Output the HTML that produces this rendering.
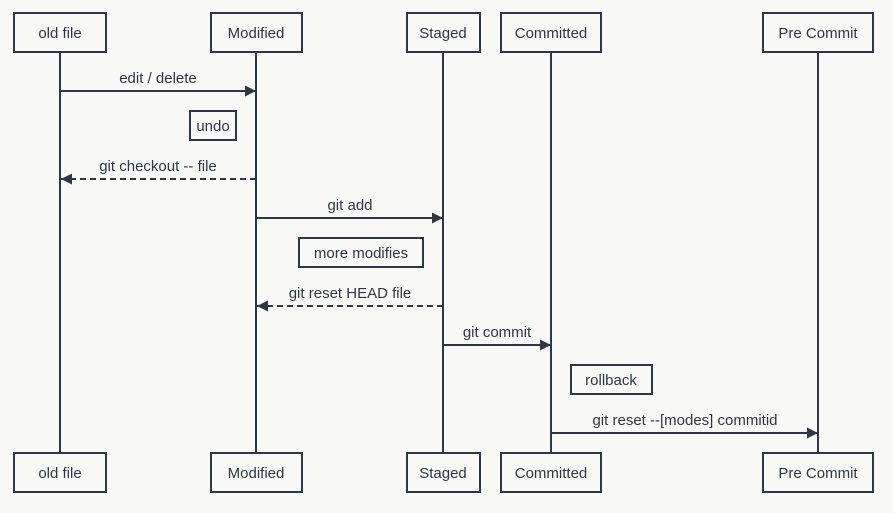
<!DOCTYPE html>
<html><head><meta charset="utf-8"><style>
html,body{margin:0;padding:0;background:#f8f8f4;}
svg{display:block;font-family:"Liberation Sans",sans-serif;}
text{font-size:15px;fill:#2d3748;}
</style></head><body>
<svg width="893" height="513" viewBox="0 0 893 513">
<defs>
<marker id="a" markerWidth="12" markerHeight="12" refX="11" refY="5.5" orient="auto" markerUnits="userSpaceOnUse"><path d="M0,0 L11,5.5 L0,11 z" fill="#2d3748"/></marker>
</defs>
<g stroke="#2d3748" stroke-width="2" fill="none">
<line x1="60" y1="52" x2="60" y2="453"/>
<line x1="256" y1="52" x2="256" y2="453"/>
<line x1="443" y1="52" x2="443" y2="453"/>
<line x1="551" y1="52" x2="551" y2="453"/>
<line x1="818" y1="52" x2="818" y2="453"/>
</g>
<g stroke="#2d3748" stroke-width="2" fill="#f8f8f4">
<rect x="14" y="13" width="92" height="39"/><rect x="211" y="13" width="91" height="39"/>
<rect x="407" y="13" width="73" height="39"/><rect x="501" y="13" width="100" height="39"/>
<rect x="763" y="13" width="110" height="39"/>
<rect x="14" y="453" width="92" height="39"/><rect x="211" y="453" width="91" height="39"/>
<rect x="407" y="453" width="73" height="39"/><rect x="501" y="453" width="100" height="39"/>
<rect x="763" y="453" width="110" height="39"/>
<rect x="190" y="111" width="46" height="29"/>
<rect x="299" y="238" width="124" height="29"/>
<rect x="571" y="365" width="81" height="29"/>
</g>
<g stroke="#2d3748" stroke-width="2" marker-end="url(#a)">
<line x1="60" y1="91" x2="256" y2="91"/>
<line x1="256" y1="179" x2="61" y2="179" stroke-dasharray="6,4"/>
<line x1="256" y1="218" x2="443" y2="218"/>
<line x1="443" y1="306" x2="257" y2="306" stroke-dasharray="6,4"/>
<line x1="443" y1="345" x2="551" y2="345"/>
<line x1="551" y1="433" x2="818" y2="433"/>
</g>
<g text-anchor="middle">
<text x="60" y="38">old file</text><text x="256" y="38">Modified</text><text x="443" y="38">Staged</text>
<text x="551" y="38">Committed</text><text x="818" y="38">Pre Commit</text>
<text x="60" y="478">old file</text><text x="256" y="478">Modified</text><text x="443" y="478">Staged</text>
<text x="551" y="478">Committed</text><text x="818" y="478">Pre Commit</text>
<text x="213" y="131">undo</text><text x="361" y="258">more modifies</text><text x="611" y="385">rollback</text>
<text x="158" y="83">edit / delete</text>
<text x="158" y="171">git checkout -- file</text>
<text x="350" y="210">git add</text>
<text x="350" y="298">git reset HEAD file</text>
<text x="497" y="337">git commit</text>
<text x="685" y="425">git reset --[modes] commitid</text>
</g>
</svg>
</body></html>
